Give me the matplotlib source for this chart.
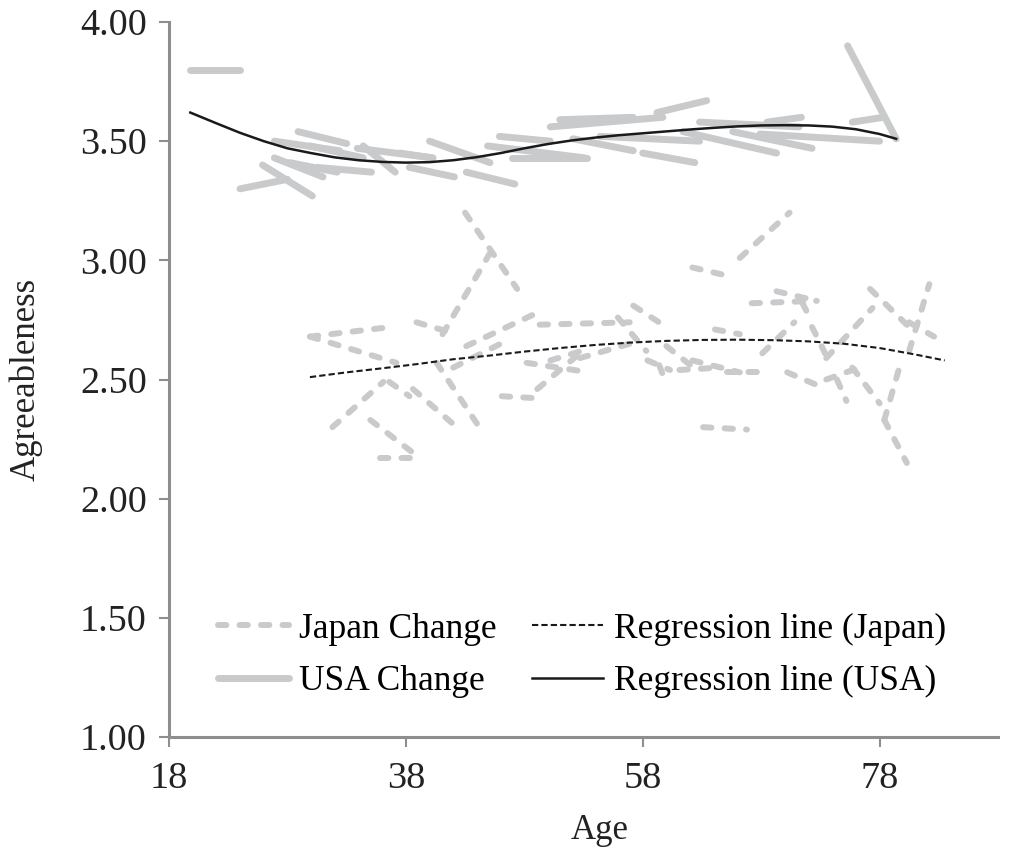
import matplotlib
matplotlib.use("Agg")
import matplotlib.pyplot as plt
from matplotlib.lines import Line2D

plt.rcParams['font.family'] = ['Liberation Serif', 'DejaVu Serif']

# Individual change segments: (start age, start score) -> (end age, end score)
usa_age_start = [19.8, 24.0, 25.9, 26.9, 28.9, 29.9, 28.2, 30.5, 34.4, 33.9, 38.3, 40.0, 37.5, 43.1,
                 45.9, 44.9, 50.2, 51.0, 52.1, 47.0, 59.2, 58.0, 62.8, 61.4, 65.6, 68.5, 75.3, 75.7,
                 54.4, 67.9, 26.9]
usa_val_start = [3.80, 3.30, 3.40, 3.43, 3.54, 3.48, 3.41, 3.39, 3.48, 3.47, 3.39, 3.50, 3.45, 3.37,
                 3.52, 3.48, 3.56, 3.59, 3.51, 3.43, 3.62, 3.45, 3.58, 3.54, 3.54, 3.58, 3.90, 3.58,
                 3.52, 3.53, 3.50]
usa_age_end = [24.0, 28.0, 30.1, 31.0, 33.0, 34.4, 32.2, 35.1, 37.1, 40.3, 42.1, 45.1, 40.2, 47.2,
               50.2, 53.1, 59.7, 57.2, 57.2, 53.3, 63.4, 62.4, 71.2, 69.3, 72.3, 71.4, 79.4, 78.3,
               62.8, 78.0, 32.4]
usa_val_end = [3.80, 3.34, 3.27, 3.35, 3.49, 3.43, 3.37, 3.37, 3.37, 3.43, 3.35, 3.41, 3.43, 3.32,
               3.50, 3.43, 3.60, 3.60, 3.46, 3.43, 3.67, 3.41, 3.56, 3.45, 3.47, 3.60, 3.51, 3.60,
               3.50, 3.50, 3.46]

jp_age_start = [29.9, 29.9, 38.9, 43.0, 41.1, 31.8, 35.0, 35.8, 38.6, 40.6, 36.6, 43.1, 42.0, 49.3,
                48.2, 46.1, 49.1, 52.7, 55.9, 57.2, 58.4, 60.0, 59.4, 62.2, 63.1, 64.1, 66.2, 62.2,
                67.2, 68.1, 72.3, 73.5, 77.2, 80.5, 80.5, 78.4, 78.4, 75.7, 73.5, 70.2, 65.1, 61.1,
                74.4, 69.3, 71.5, 50.2]
jp_val_start = [2.68, 2.68, 2.74, 3.20, 2.69, 2.30, 2.33, 2.17, 2.46, 2.57, 2.49, 2.64, 2.55, 2.73,
                2.57, 2.43, 2.46, 2.59, 2.76, 2.81, 2.58, 2.64, 2.56, 2.58, 2.30, 2.71, 3.01, 2.97,
                2.82, 2.61, 2.72, 2.59, 2.88, 2.62, 2.74, 2.33, 2.33, 2.55, 2.50, 2.53, 2.53, 2.54,
                2.50, 2.87, 2.82, 2.58]
jp_age_end = [36.7, 37.2, 42.3, 47.4, 45.1, 36.1, 39.2, 39.4, 42.3, 44.2, 38.3, 49.1, 46.8, 56.9,
              53.5, 49.6, 52.7, 56.9, 58.3, 60.0, 60.3, 62.8, 60.0, 66.2, 66.8, 66.2, 70.4, 65.6,
              72.7, 70.8, 73.8, 77.4, 80.5, 82.2, 82.6, 79.9, 80.3, 78.0, 76.3, 73.5, 68.7, 64.5,
              75.2, 72.7, 72.1, 53.5]
jp_val_end = [2.72, 2.57, 2.69, 2.88, 3.03, 2.49, 2.17, 2.17, 2.30, 2.30, 2.43, 2.78, 2.67, 2.74,
              2.53, 2.42, 2.61, 2.65, 2.62, 2.72, 2.54, 2.53, 2.48, 2.53, 2.29, 2.69, 3.20, 2.93,
              2.83, 2.74, 2.57, 2.80, 2.72, 2.90, 2.68, 2.59, 2.15, 2.40, 2.55, 2.46, 2.53, 2.55,
              2.41, 2.83, 2.76, 2.63]

# Fitted regression curves
usa_fit_age = [19.8, 22, 24, 26, 28, 30, 32, 34, 36, 38, 40, 42, 44, 46, 48, 50, 52, 54, 56, 58,
               60, 62, 64, 66, 68, 70, 72, 74, 76, 78, 79.4]
usa_fit_val = [3.62, 3.575, 3.535, 3.50, 3.47, 3.45, 3.432, 3.42, 3.413, 3.41, 3.412, 3.42, 3.433,
               3.45, 3.47, 3.488, 3.503, 3.515, 3.525, 3.533, 3.541, 3.549, 3.556, 3.562, 3.566,
               3.567, 3.566, 3.561, 3.55, 3.53, 3.51]
jp_fit_age = [29.9, 33, 36, 39, 42, 45, 48, 51, 54, 57, 60, 63, 66, 69, 72, 75, 78, 81, 83.5]
jp_fit_val = [2.51, 2.53, 2.547, 2.565, 2.585, 2.60, 2.617, 2.632, 2.645, 2.655, 2.662, 2.666,
              2.667, 2.665, 2.66, 2.65, 2.632, 2.605, 2.58]

x_ticks = [18, 38, 58, 78]
y_ticks = [1.00, 1.50, 2.00, 2.50, 3.00, 3.50, 4.00]

change_gray = '#c9cacc'
axis_gray = '#8e8e8e'
jp_dash = (0, (1.4, 2.2))

fig = plt.figure(figsize=(10.17, 8.49), dpi=100)
ax = fig.add_axes([169 / 1017, 112 / 849, 829 / 1017, 715 / 849])

for a0, v0, a1, v1 in zip(jp_age_start, jp_val_start, jp_age_end, jp_val_end):
    ax.plot([a0, a1], [v0, v1], color=change_gray, lw=4.3, linestyle=jp_dash,
            dash_capstyle='round', zorder=2)
for a0, v0, a1, v1 in zip(usa_age_start, usa_val_start, usa_age_end, usa_val_end):
    ax.plot([a0, a1], [v0, v1], color=change_gray, lw=5, solid_capstyle='round', zorder=2)

ax.plot(jp_fit_age, jp_fit_val, color='#1a1a1a', lw=1.5, linestyle=(0, (3, 1.5)), zorder=4)
ax.plot(usa_fit_age, usa_fit_val, color='#1a1a1a', lw=1.8, zorder=4)

ax.set_xlim(18, 88)
ax.set_ylim(1.0, 4.0)
ax.set_xticks(x_ticks)
ax.set_xticklabels([str(t) for t in x_ticks])
ax.set_yticks(y_ticks)
ax.set_yticklabels([f'{t:.2f}' for t in y_ticks])

for side in ('top', 'right'):
    ax.spines[side].set_visible(False)
for side in ('left', 'bottom'):
    ax.spines[side].set_color(axis_gray)
    ax.spines[side].set_linewidth(2.2)
ax.tick_params(axis='both', direction='out', length=7, width=1.5, color=axis_gray,
               labelsize=27.5, labelcolor='#222222')
ax.tick_params(axis='y', pad=9)
ax.tick_params(axis='x', pad=11)

ax.set_xlabel('Age', fontsize=25, color='#222222')
ax.set_ylabel('Agreeableness', fontsize=25, color='#222222')
ax.xaxis.set_label_coords((600 - 169) / 829, -0.108)
ax.yaxis.set_label_coords(-0.152, 0.5)

handles = [
    Line2D([], [], color=change_gray, lw=4.3, linestyle=jp_dash, dash_capstyle='round'),
    Line2D([], [], color=change_gray, lw=5, solid_capstyle='round'),
    Line2D([], [], color='#1a1a1a', lw=1.5, linestyle=(0, (3, 1.5))),
    Line2D([], [], color='#1a1a1a', lw=1.8),
]
labels = ['Japan Change', 'USA Change', 'Regression line (Japan)', 'Regression line (USA)']
ax.legend(handles, labels, ncol=2, loc='center left', bbox_to_anchor=(0.059, 0.114),
          frameon=False, fontsize=25.5, handlelength=2.0, handletextpad=0.3,
          columnspacing=1.0, labelspacing=0.55, borderpad=0, borderaxespad=0)

fig.savefig('out.png', dpi=100, facecolor='white')
